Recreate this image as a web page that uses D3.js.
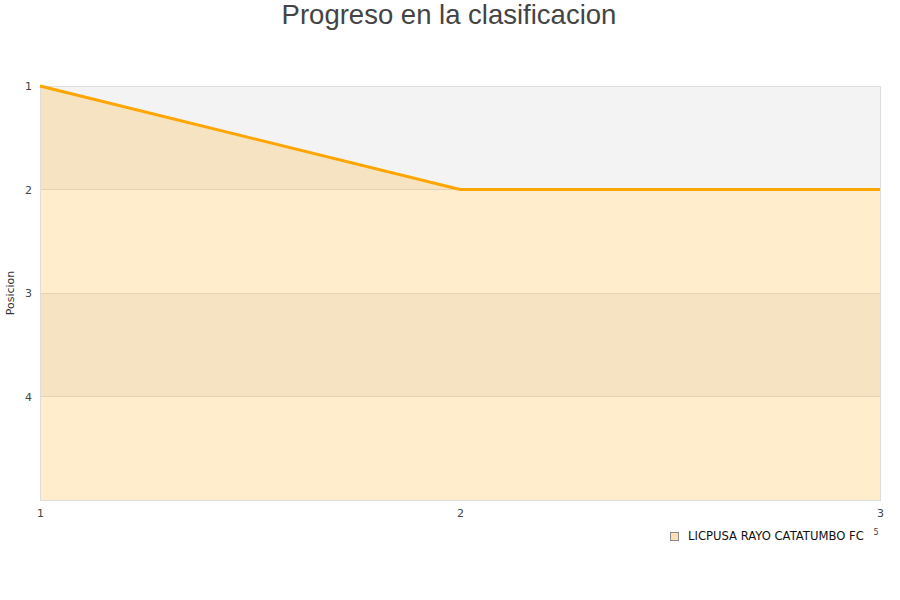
<!DOCTYPE html>
<html><head><meta charset="utf-8">
<script src="https://cdn.jsdelivr.net/npm/d3@7"></script>
<style>body{margin:0;background:#fff;font-family:"DejaVu Sans",sans-serif;}</style>
</head><body>
<svg id="c" width="900" height="600"></svg>
<script>
const title = "Progreso en la clasificacion";
const seriesName = "LICPUSA RAYO CATATUMBO FC";
const jornadas = [1, 2, 3];
const posiciones = [1, 2, 2];
const yTicks = [1, 2, 3, 4];
const yDomain = [1, 5];

const svg = d3.select("#c");
const L = 40, R = 880, T = 86, B = 500;
const x = d3.scaleLinear().domain([1, 3]).range([L, R]);
const y = d3.scaleLinear().domain(yDomain).range([T, B]);

svg.append("text").attr("x", 449).attr("y", 24).attr("text-anchor", "middle")
  .attr("font-family", "Liberation Sans, Arial, sans-serif").attr("font-size", 27.5).attr("fill", "#444").text(title);

// bands
const bands = d3.range(yDomain[0], yDomain[1]);
svg.append("g").selectAll("rect").data(bands).join("rect")
  .attr("x", L).attr("width", R - L)
  .attr("y", d => y(d)).attr("height", d => y(d + 1) - y(d))
  .attr("fill", (d, i) => i % 2 === 0 ? "#f3f3f3" : "#ffffff");

// gridlines
svg.append("g").selectAll("line").data(d3.range(yDomain[0], yDomain[1] + 1)).join("line")
  .attr("x1", L).attr("x2", R).attr("y1", d => y(d)).attr("y2", d => y(d))
  .attr("stroke", "#dedede").attr("stroke-width", 1).attr("shape-rendering", "crispEdges");

const pts = jornadas.map((j, i) => [j, posiciones[i]]);
svg.append("path").datum(pts)
  .attr("d", d3.area().x(d => x(d[0])).y0(B).y1(d => y(d[1])))
  .attr("fill", "#ffa500").attr("fill-opacity", 0.2);

// border
svg.append("rect").attr("x", L + 0.5).attr("y", T + 0.5).attr("width", R - L).attr("height", B - T)
  .attr("fill", "none").attr("stroke", "#dddddd");

svg.append("path").datum(pts)
  .attr("d", d3.line().x(d => x(d[0])).y(d => y(d[1])))
  .attr("fill", "none").attr("stroke", "#ffa500").attr("stroke-width", 3);

// y axis labels
const yAxis = d3.axisLeft(y).tickValues(yTicks).tickSize(0).tickPadding(8).tickFormat(d3.format("d"));
const gy = svg.append("g").attr("transform", `translate(${L},0)`).call(yAxis);
gy.select(".domain").remove();
gy.selectAll("text").attr("font-size", 11).attr("fill", "#444").attr("font-family", "DejaVu Sans, sans-serif");

const xAxis = d3.axisBottom(x).tickValues(jornadas).tickSize(0).tickPadding(9).tickFormat(d3.format("d"));
const gx = svg.append("g").attr("transform", `translate(0,${B})`).call(xAxis);
gx.select(".domain").remove();
gx.selectAll("text").attr("font-size", 11).attr("fill", "#444").attr("font-family", "DejaVu Sans, sans-serif");

svg.append("text").attr("transform", `translate(14,${(T + B) / 2}) rotate(-90)`)
  .attr("text-anchor", "middle").attr("font-size", 11).attr("fill", "#333").text("Posicion");

// legend
svg.append("rect").attr("x", 670.5).attr("y", 532.5).attr("width", 8).attr("height", 8)
  .attr("fill", "#ffe0b0").attr("stroke", "#888");
svg.append("text").attr("x", 688).attr("y", 540).attr("font-size", 11.6).attr("fill", "#111").text(seriesName);
svg.append("text").attr("x", 876).attr("y", 535).attr("text-anchor", "middle").attr("font-size", 8).attr("fill", "#444").text("5");
</script>
</body></html>
